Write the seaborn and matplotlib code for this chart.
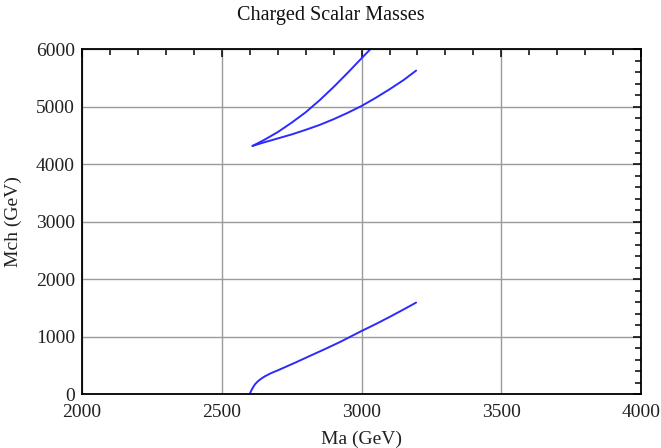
import matplotlib
matplotlib.use("Agg")
import matplotlib.pyplot as plt
from matplotlib.ticker import MultipleLocator
import seaborn as sns
import pandas as pd

# Light charged scalar branch
ma_low = [2600, 2605, 2611, 2619, 2630, 2642, 2655, 2675, 2702, 2762, 2822, 2867, 2923,
          2995, 3050, 3102, 3150, 3195]
mch_low = [0, 55, 110, 170, 225, 270, 310, 360, 415, 544, 678, 777, 905,
           1084, 1215, 1345, 1470, 1590]

# Heavy charged scalar, steep branch
ma_steep = [2610, 2650, 2700, 2750, 2800, 2850, 2900, 2950, 3000, 3030]
mch_steep = [4315, 4415, 4555, 4720, 4900, 5110, 5340, 5585, 5840, 5990]

# Heavy charged scalar, shallow branch
ma_flat = [2610, 2650, 2700, 2750, 2800, 2850, 2900, 2950, 3000, 3050, 3100, 3150, 3195]
mch_flat = [4315, 4375, 4445, 4515, 4595, 4680, 4780, 4890, 5010, 5150, 5300, 5460, 5625]

x_ticks = [2000, 2500, 3000, 3500, 4000]
y_ticks = [0, 1000, 2000, 3000, 4000, 5000, 6000]

sns.set_theme(style="white")
plt.rcParams["font.family"] = ["Liberation Serif", "DejaVu Serif"]

branches = pd.concat([
    pd.DataFrame({"Ma": ma_low, "Mch": mch_low, "branch": "low"}),
    pd.DataFrame({"Ma": ma_steep, "Mch": mch_steep, "branch": "steep"}),
    pd.DataFrame({"Ma": ma_flat, "Mch": mch_flat, "branch": "flat"}),
])

fig = plt.figure(figsize=(6.61, 4.48), dpi=100)
ax = fig.add_axes([0.124, 0.1205, 0.846, 0.770])

for name, sub in branches.groupby("branch", sort=False):
    sns.lineplot(data=sub, x="Ma", y="Mch", sort=False, estimator=None,
                 color="#2b2bff", linewidth=1.4, ax=ax, legend=False)

ax.set_xlim(2000, 4000)
ax.set_ylim(0, 6000)
ax.set_xticks(x_ticks)
ax.set_yticks(y_ticks)
ax.xaxis.set_minor_locator(MultipleLocator(100))
ax.yaxis.set_minor_locator(MultipleLocator(200))
ax.grid(True, which="major", color="#9a9a9a", linewidth=1.0)
ax.set_axisbelow(True)

for spine in ax.spines.values():
    spine.set_color("black")
    spine.set_linewidth(1.3)

ax.tick_params(which="both", direction="in", top=True, right=True,
               color="black", width=1.1, labelsize=14, labelcolor="#222222")
ax.tick_params(which="major", length=6)
ax.tick_params(which="minor", length=4.5)
ax.tick_params(axis="x", pad=7)
ax.tick_params(axis="y", pad=5)

ax.set_xlabel("Ma (GeV)", fontsize=14, color="#222222", labelpad=7)
ax.set_ylabel("Mch (GeV)", fontsize=14, color="#222222", labelpad=10)
fig.suptitle("Charged Scalar Masses", x=0.5, y=0.966, va="center",
             fontsize=14.5, color="#111111")

fig.savefig("out.png", dpi=100)
